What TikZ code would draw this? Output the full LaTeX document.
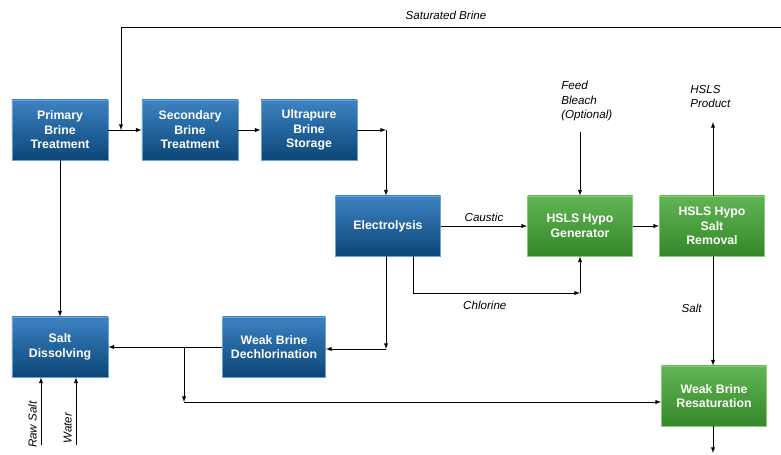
\documentclass[tikz,border=0pt]{standalone}
\usepackage{fontspec}
\setmainfont{Liberation Sans}
\usetikzlibrary{positioning}

\begin{document}
\begin{tikzpicture}
  [x=0.03cm,y=-0.03cm,>=latex,line width=0.65pt,
   every node/.style={font=\fontsize{9.9}{12.3}\selectfont\itshape},
   blubox/.style={rectangle,minimum width=2.88cm,minimum height=1.8cm,
     top color=blue1,bottom color=blue2,draw=blue3,line width=0.8pt,
     text=white,align=center,font=\fontsize{10.5}{12.4}\selectfont\bfseries},
   grnbox/.style={blubox,minimum width=3.15cm,top color=green1,
     bottom color=green2,draw=green3}]
  \definecolor{blue1}{HTML}{3D82C2}
  \definecolor{blue2}{HTML}{0B4677}
  \definecolor{blue3}{HTML}{6AA2D6}
  \definecolor{green1}{HTML}{62B553}
  \definecolor{green2}{HTML}{35872A}
  \definecolor{green3}{HTML}{8CCB7E}
  \useasboundingbox (0,0) rectangle (781,455);

  \node[blubox] (pbt) at (60,130) {Primary\\Brine\\Treatment};
  \node[blubox] (sbt) at (190,130) {Secondary\\Brine\\Treatment};
  \node[blubox] (ubs) at (309,130) {Ultrapure\\Brine\\Storage};
  \node[blubox,minimum width=3.15cm] (elec) at (388,226) {Electrolysis};
  \node[grnbox] (gen) at (580,226) {HSLS Hypo\\Generator};
  \node[grnbox] (rem) at (712,226) {HSLS Hypo\\Salt\\Removal};
  \node[grnbox] (res) at (714,396) {Weak Brine\\Resaturation};
  \node[blubox] (sd) at (60,347) {Salt\\Dissolving};
  \node[blubox,minimum width=3.09cm] (dech) at (274,347) {Weak Brine\\Dechlorination};

  \node (satlbl) at (446,15) {Saturated Brine};
  \node[align=left,anchor=north west] (feed) at (557,77) {Feed\\Bleach\\(Optional)};
  \node[align=left,anchor=north west] (prod) at (686,81) {HSLS\\Product};

  \coordinate (sbin) at (781,27);
  \coordinate (sbj) at (121,130);
  \coordinate (c1) at (386,130);
  \coordinate (c2) at (580,293);
  \coordinate (c3) at (386,349);
  \coordinate (c4) at (184,347);
  \coordinate (c5) at (184,402);
  \coordinate (fb) at (580,132);
  \coordinate (hp) at (713,122);
  \coordinate (out) at (713,453);
  \coordinate (rs) at (41,445);
  \coordinate (wt) at (76,445);

  \draw[->] (sbin) -| (sbj);
  \foreach \from/\to in {pbt/sbt,sbt/ubs,gen/rem,dech/sd}
    \draw[->] (\from) -- (\to);
  \draw[->] (ubs) -- (c1);
  \draw[->] (c1) -- (c1 |- elec.north);
  \draw[->] (elec) -- node[above] {Caustic} (gen);
  \draw[->] (elec.south -| 413,0) |- node[pos=0.715,below=3pt] {Chlorine} (c2);
  \draw[->] (c2) -- (gen.south);
  \draw[->] (fb) -- (gen.north);
  \draw[->] (rem.north -| hp) -- (hp);
  \draw[->] (rem.south -| hp) -- node[pos=0.48,left=6pt] {Salt} (res.north -| hp);
  \draw[->] (res.south -| out) -- (out);
  \draw[->] (elec.south -| c3) -- (c3);
  \draw[->] (c3) -- (c3 -| dech.east);
  \draw[->] (c4) -- (c5);
  \draw[->] (c5) -- (c5 -| res.west);
  \draw[->] (pbt) -- (sd);
  \draw[->] (rs) -- node[rotate=90,pos=0.3,above] {Raw Salt} (rs |- sd.south);
  \draw[->] (wt) -- node[rotate=90,pos=0.25,above] {Water} (wt |- sd.south);
\end{tikzpicture}
\end{document}
